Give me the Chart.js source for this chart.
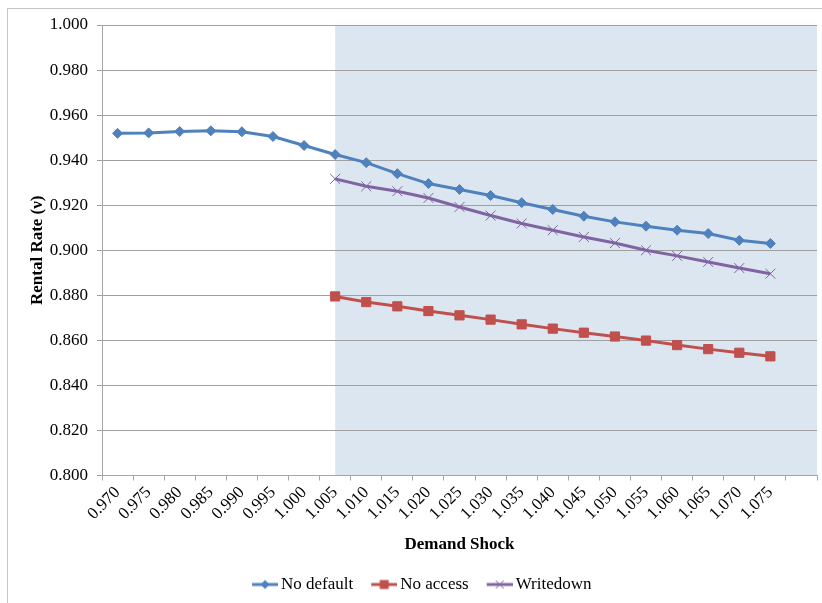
<html>
<head>
<script src="https://cdn.jsdelivr.net/npm/chart.js"></script>
<style>
  html, body { margin: 0; background: #fff; overflow: hidden; }
  #frame { position: absolute; left: 7px; top: 8px; width: 815px; height: 600px; border: 1px solid #c4c4c4; border-right: none; border-bottom: none; }
  #wrap { position: absolute; left: 0; top: 0; width: 822px; height: 603px; overflow: hidden; }
</style>
</head>
<body>
<div id="frame"></div>
<div id="wrap"><canvas id="chart" width="825" height="603"></canvas></div>
<script>
// categories (last slot is empty in the original)
var shockLabels = ['0.970', '0.975', '0.980', '0.985', '0.990', '0.995', '1.000', '1.005', '1.010', '1.015', '1.020',
    '1.025', '1.030', '1.035', '1.040', '1.045', '1.050', '1.055', '1.060', '1.065', '1.070', '1.075', ''];

var noDefault = [0.9519, 0.9521, 0.9527, 0.9530, 0.9526, 0.9505, 0.9465, 0.9425, 0.9389, 0.9340, 0.9296,
    0.9270, 0.9243, 0.9211, 0.9181, 0.9151, 0.9126, 0.9107, 0.9089, 0.9074, 0.9044, 0.9030];

var noAccess = [null, null, null, null, null, null, null, 0.8795, 0.8770, 0.8751, 0.8730,
    0.8711, 0.8692, 0.8671, 0.8652, 0.8634, 0.8617, 0.8599, 0.8579, 0.8561, 0.8545, 0.8529];

var writedown = [null, null, null, null, null, null, null, 0.9317, 0.9284, 0.9262, 0.9232,
    0.9192, 0.9154, 0.9119, 0.9089, 0.9059, 0.9032, 0.9000, 0.8975, 0.8948, 0.8921, 0.8896];

var shadeFrom = '1.005';

var serif = 'Liberation Serif';
var padLeft = 15;

// small line+marker sample for the legend (drawn on the right part so it sits close to the text)
function legendSample(color, marker) {
    var c = document.createElement('canvas');
    c.width = 35; c.height = 14;
    var g = c.getContext('2d');
    g.translate(9, 0);
    g.strokeStyle = color; g.lineWidth = 3;
    g.beginPath(); g.moveTo(0, 7); g.lineTo(26, 7); g.stroke();
    g.fillStyle = color; g.lineWidth = 1;
    if (marker == 'diamond') {
        g.beginPath(); g.moveTo(13, 2.5); g.lineTo(17.5, 7); g.lineTo(13, 11.5); g.lineTo(8.5, 7); g.closePath(); g.fill();
    } else if (marker == 'square') {
        g.fillRect(8.5, 2.5, 9, 9);
    } else {
        g.beginPath(); g.moveTo(9, 3); g.lineTo(17, 11); g.moveTo(17, 3); g.lineTo(9, 11); g.stroke();
    }
    return c;
}

var shadePlugin = {
    id: 'shade',
    beforeDraw: function(chart) {
        var x = chart.scales.x, a = chart.chartArea, ctx = chart.ctx;
        var left = x.getPixelForValue(shockLabels.indexOf(shadeFrom));
        ctx.save();
        ctx.fillStyle = '#dce6f1';
        ctx.fillRect(left, a.top, a.right - left, a.bottom - a.top);
        ctx.restore();
    }
};

var samples = [legendSample('#4f81bd', 'diamond'), legendSample('#c0504d', 'square'), legendSample('#8064a2', 'cross')];

new Chart(document.getElementById('chart').getContext('2d'), {
    type: 'line',
    data: {
        labels: shockLabels,
        datasets: [{
            label: 'No default',
            data: noDefault,
            borderColor: '#4f81bd',
            backgroundColor: '#4f81bd',
            borderWidth: 3,
            pointStyle: 'rectRot',
            pointRadius: 5,
            pointBorderWidth: 1
        }, {
            label: 'No access',
            data: noAccess,
            borderColor: '#c0504d',
            backgroundColor: '#c0504d',
            borderWidth: 3,
            pointStyle: 'rect',
            pointRadius: 6.5,
            pointBorderWidth: 1
        }, {
            label: 'Writedown',
            data: writedown,
            borderColor: '#8064a2',
            backgroundColor: '#8064a2',
            borderWidth: 3,
            pointStyle: 'crossRot',
            pointRadius: 7,
            pointBorderWidth: 1
        }]
    },
    options: {
        responsive: false,
        animation: false,
        layout: { padding: { left: padLeft, right: 0, top: 25, bottom: 0 } },
        plugins: {
            tooltip: { enabled: false },
            legend: {
                position: 'bottom',
                labels: {
                    usePointStyle: true,
                    pointStyleWidth: 24,
                    padding: 14.5,
                    color: '#000',
                    font: { family: serif, size: 17 },
                    generateLabels: function(chart) {
                        return chart.data.datasets.map(function(ds, i) {
                            return { text: ds.label, pointStyle: samples[i], datasetIndex: i, fontColor: '#000', lineWidth: 0 };
                        });
                    }
                }
            }
        },
        scales: {
            x: {
                offset: true,
                grid: { offset: true, drawOnChartArea: false, drawTicks: true, tickLength: 5, color: '#a6a6a6' },
                border: { color: '#a6a6a6' },
                ticks: { autoSkip: false, maxRotation: 45, minRotation: 45, color: '#000', padding: 2, font: { family: serif, size: 17 } },
                title: { display: true, text: 'Demand Shock', color: '#000', font: { family: serif, size: 17, weight: 'bold' }, padding: { top: 0, bottom: 7 } },
                afterFit: function(s) { s.height = 86; }
            },
            y: {
                min: 0.8,
                max: 1.0,
                grid: { color: '#a0a0a0', tickLength: 5 },
                border: { color: '#a6a6a6' },
                ticks: { stepSize: 0.02, color: '#000', padding: 9, font: { family: serif, size: 17 },
                    callback: function(v) { return v.toFixed(3); } },
                title: { display: true, text: 'Rental Rate (ν)', color: '#000', font: { family: serif, size: 17, weight: 'bold' }, padding: { top: 12, bottom: 0 } },
                afterFit: function(s) { s.width = 102 - padLeft; }
            }
        }
    },
    plugins: [shadePlugin]
});
</script>
</body>
</html>
